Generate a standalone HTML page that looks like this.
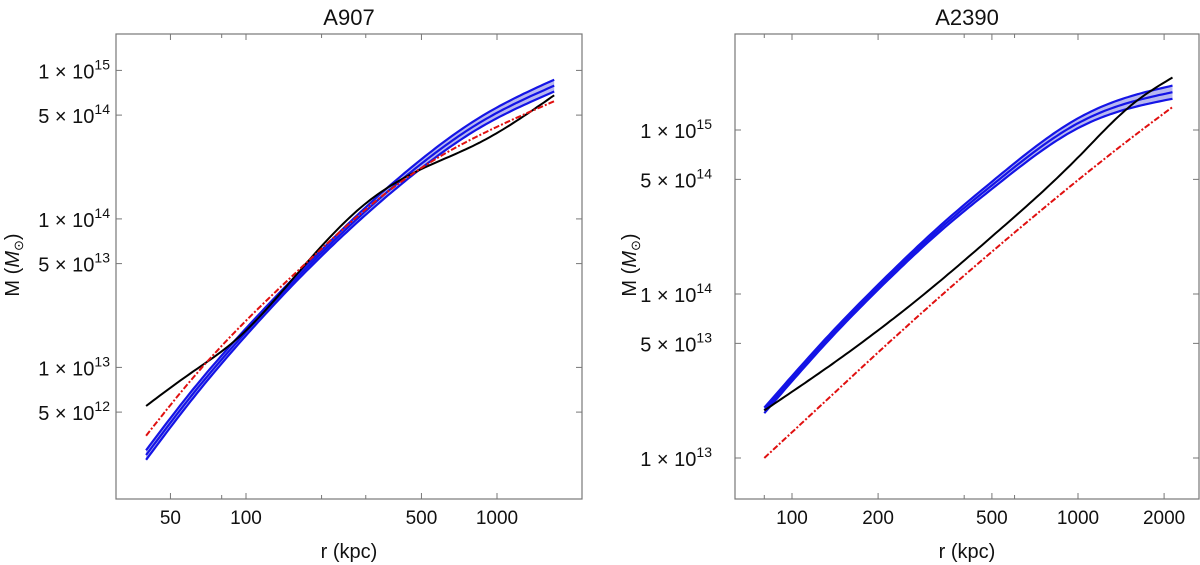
<!DOCTYPE html>
<html><head><meta charset="utf-8">
<style>
html,body{margin:0;padding:0;background:#fff;}
svg{display:block;font-family:"Liberation Sans",Arial,sans-serif;}
</style></head>
<body>
<svg id="chart" width="1200" height="565" viewBox="0 0 1200 565" xmlns="http://www.w3.org/2000/svg"></svg>
<script>
// ---- A907 data ----
const a907Radius = [40, 60, 93, 177, 298, 507, 863, 1690];
const a907Black = [5.5e12, 9.1e12, 1.58e13, 5.2e13, 1.26e14, 2.19e14, 3.3e14, 6.8e14];
const a907Blue = [2.57e12, 6.3e12, 1.51e13, 4.8e13, 1.12e14, 2.4e14, 4.5e14, 7.9e14];
const a907BlueErrDex = [0.032, 0.03, 0.025, 0.02, 0.025, 0.03, 0.035, 0.04];
const a907Red = [3.47e12, 8.1e12, 1.82e13, 5.2e13, 1.15e14, 2.24e14, 3.7e14, 6.2e14];
const a907XTicks = [50, 100, 500, 1000];
const a907XMinor = [80, 200, 300];
const a907YTicks = [1e15, 5e14, 1e14, 5e13, 1e13, 5e12];
// ---- A2390 data ----
const a2390Radius = [80, 137, 200, 346, 500, 1000, 1530, 2140];
const a2390Black = [1.95e13, 3.7e13, 6.0e13, 1.29e14, 2.24e14, 6.8e14, 1.41e15, 2.09e15];
const a2390Blue = [1.95e13, 5.6e13, 1.1e14, 2.7e14, 4.6e14, 1.1e15, 1.48e15, 1.70e15];
const a2390BlueErrDex = [0.017, 0.015, 0.015, 0.018, 0.022, 0.03, 0.036, 0.04];
const a2390Red = [1.0e13, 2.39e13, 4.4e13, 1.04e14, 1.81e14, 4.95e14, 8.9e14, 1.38e15];
const a2390XTicks = [100, 200, 500, 1000, 2000];
const a2390XMinor = [80, 400, 600];
const a2390YTicks = [1e15, 5e14, 1e14, 5e13, 1e13];

const NS = "http://www.w3.org/2000/svg";
const svg = document.getElementById('chart');
function mk(tag, attrs, parent) {
  const e = document.createElementNS(NS, tag);
  for (const k in attrs) e.setAttribute(k, attrs[k]);
  (parent || svg).appendChild(e);
  return e;
}
function spline(xs, ys, n) {
  const m = xs.length, h = [], al = [], l = [1], mu = [0], z = [0];
  for (let i = 0; i < m - 1; i++) h.push(xs[i + 1] - xs[i]);
  for (let i = 1; i < m - 1; i++) al[i] = 3 / h[i] * (ys[i + 1] - ys[i]) - 3 / h[i - 1] * (ys[i] - ys[i - 1]);
  for (let i = 1; i < m - 1; i++) {
    l[i] = 2 * (xs[i + 1] - xs[i - 1]) - h[i - 1] * mu[i - 1];
    mu[i] = h[i] / l[i];
    z[i] = (al[i] - h[i - 1] * z[i - 1]) / l[i];
  }
  const c = new Array(m).fill(0), b = [], d = [];
  for (let j = m - 2; j >= 0; j--) {
    c[j] = (j === 0 ? 0 : z[j] - mu[j] * c[j + 1]);
    b[j] = (ys[j + 1] - ys[j]) / h[j] - h[j] * (c[j + 1] + 2 * c[j]) / 3;
    d[j] = (c[j + 1] - c[j]) / (3 * h[j]);
  }
  const out = [];
  for (let k = 0; k <= n; k++) {
    const x = xs[0] + (xs[m - 1] - xs[0]) * k / n;
    let j = 0;
    while (j < m - 2 && x > xs[j + 1]) j++;
    const t = x - xs[j];
    out.push([x, ys[j] + b[j] * t + c[j] * t * t + d[j] * t * t * t]);
  }
  return out;
}
function curve(r, vals, xs, ys) {
  const lx = r.map(v => Math.log10(v)), ly = vals.map(v => Math.log10(v));
  return spline(lx, ly, 120).map(p => [xs(Math.pow(10, p[0])), ys(Math.pow(10, p[1]))]);
}
function pathD(pts) {
  return pts.map((p, i) => (i ? 'L' : 'M') + p[0].toFixed(1) + ',' + p[1].toFixed(1)).join(' ');
}
function drawPanel(cfg) {
  const g = mk('g', {});
  
  
  const xs = r => cfg.x0 + (Math.log10(r) - 2) * cfg.xDec;
  const ys = m => cfg.yRef + (cfg.yRefExp - Math.log10(m)) * cfg.yDec;
  const f = cfg.frame;
  const frame = mk('rect', {x: f[0], y: f[1], width: f[2] - f[0], height: f[3] - f[1], fill: 'none', stroke: '#777', 'stroke-width': 1.2}, g);
  
  
  cfg.xTicks.concat(cfg.xMinor).forEach((t, i) => {
    const x = xs(t);
    const major = i < cfg.xTicks.length;
    const L = major ? 6 : 4;
    mk('line', {x1: x, y1: f[3], x2: x, y2: f[3] - L, stroke: '#777'}, g);
    mk('line', {x1: x, y1: f[1], x2: x, y2: f[1] + L, stroke: '#777'}, g);
    if (major) {
      const tx = mk('text', {x: x, y: f[3] + 25, 'font-size': 19, 'text-anchor': 'middle', fill: '#111'}, g);
      tx.textContent = t;
      
      
    }
  });
  cfg.yTicks.forEach(t => {
    const y = ys(t);
    mk('line', {x1: f[0], y1: y, x2: f[0] + 6, y2: y, stroke: '#777'}, g);
    mk('line', {x1: f[2], y1: y, x2: f[2] - 6, y2: y, stroke: '#777'}, g);
    const e = Math.floor(Math.log10(t) + 1e-9);
    const mant = Math.round(t / Math.pow(10, e));
    const tx = mk('text', {x: cfg.yLabelX, y: y + 8, 'font-size': 20, 'text-anchor': 'end', fill: '#111'}, g);
    
    
    const a = mk('tspan', {}, tx); a.textContent = mant + ' \u00d7 10';
    const b = mk('tspan', {dy: -9, 'font-size': 14}, tx); b.textContent = e;
  });
  const title = mk('text', {x: (f[0] + f[2]) / 2, y: 25, 'font-size': 22, 'text-anchor': 'middle', fill: '#111'}, g);
  title.textContent = cfg.title;
  
  
  const xl = mk('text', {x: (f[0] + f[2]) / 2, y: 558, 'font-size': 20, 'text-anchor': 'middle', fill: '#111'}, g);
  xl.textContent = 'r (kpc)';
  
  
  const yl = mk('text', {x: 0, y: 0, 'font-size': 20, 'text-anchor': 'middle', fill: '#111', transform: `translate(${cfg.yTitleX},265) rotate(-90)`}, g);
  
  
  const y1 = mk('tspan', {}, yl); y1.textContent = 'M (';
  const y2 = mk('tspan', {'font-style': 'italic'}, yl); y2.textContent = 'M';
  const y3 = mk('tspan', {'font-size': 13, dy: 4}, yl); y3.textContent = '\u2299';
  const y4 = mk('tspan', {dy: -4}, yl); y4.textContent = ')';
  const r = cfg.radius;
  const upV = cfg.blue.map((v, i) => v * Math.pow(10, cfg.err[i]));
  const loV = cfg.blue.map((v, i) => v / Math.pow(10, cfg.err[i]));
  const up = curve(r, upV, xs, ys), lo = curve(r, loV, xs, ys), mid = curve(r, cfg.blue, xs, ys);
  const band = mk('path', {d: pathD(up.concat(lo.slice().reverse())) + ' Z', fill: '#b8b8f0', stroke: 'none'}, g);
  
  
  [up, mid, lo].forEach((pts, k) => {
    const p = mk('path', {d: pathD(pts), fill: 'none', stroke: '#1414e6', 'stroke-width': 2.2}, g);
    
    
  });
  const blk = mk('path', {d: pathD(curve(r, cfg.black, xs, ys)), fill: 'none', stroke: '#000', 'stroke-width': 2}, g);
  
  
  const red = mk('path', {d: pathD(curve(r, cfg.red, xs, ys)), fill: 'none', stroke: '#e01010', 'stroke-width': 2, 'stroke-dasharray': '6,2,2,2'}, g);
  
  
}
drawPanel({name: 'a907', title: 'A907', frame: [116, 34, 582, 499], x0: 246, xDec: 251,
  yRef: 70.4, yRefExp: 15, yDec: 148.5, yLabelX: 110, yTitleX: 19,
  radius: a907Radius, black: a907Black, blue: a907Blue, err: a907BlueErrDex, red: a907Red,
  xTicks: a907XTicks, xMinor: a907XMinor, yTicks: a907YTicks});
drawPanel({name: 'a2390', title: 'A2390', frame: [735, 34, 1199, 499], x0: 792, xDec: 286,
  yRef: 294, yRefExp: 14, yDec: 164, yLabelX: 712, yTitleX: 636,
  radius: a2390Radius, black: a2390Black, blue: a2390Blue, err: a2390BlueErrDex, red: a2390Red,
  xTicks: a2390XTicks, xMinor: a2390XMinor, yTicks: a2390YTicks});
</script>
</body></html>
